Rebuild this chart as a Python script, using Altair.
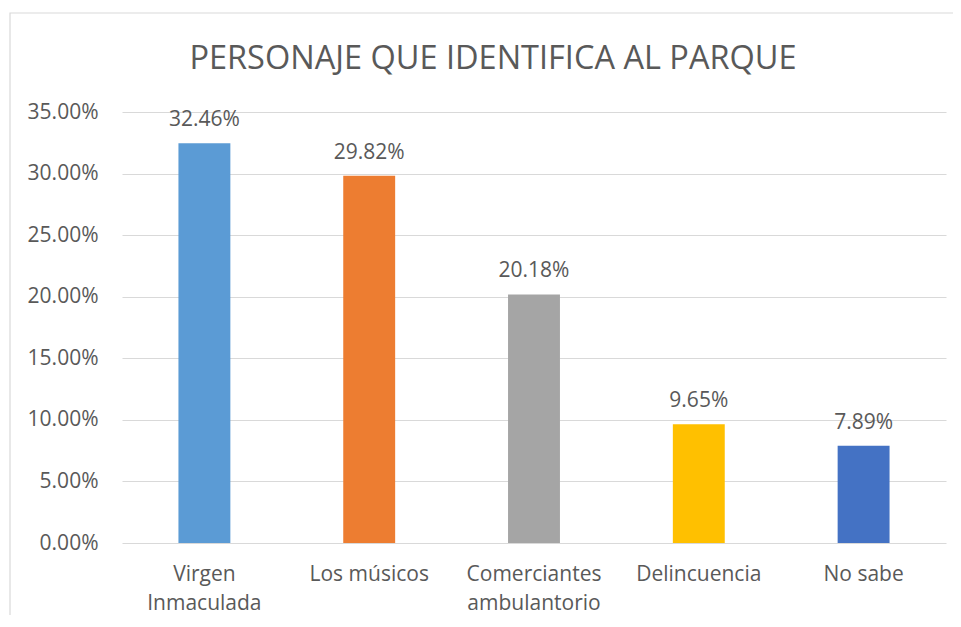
import altair as alt
import pandas as pd

categories = ["Virgen\nInmaculada", "Los músicos", "Comerciantes\nambulantorio", "Delincuencia", "No sabe"]
values = [0.3246, 0.2982, 0.2018, 0.0965, 0.0789]
colors = ["#5B9BD5", "#ED7D31", "#A5A5A5", "#FFC000", "#4472C4"]
title_text = "PERSONAJE QUE IDENTIFICA AL PARQUE"

df = pd.DataFrame({"cat": categories, "val": values, "color": colors})

FONT = "Open Sans"
GRAY = "#595959"

x_enc = alt.X(
    "cat:N",
    sort=categories,
    scale=alt.Scale(paddingInner=0.685, paddingOuter=0.3425),
    axis=alt.Axis(
        title=None,
        labelAngle=0,
        labelExpr="split(datum.label, '\\n')",
        labelLineHeight=29,
        labelPadding=20,
        labelFontSize=21,
        labelFont=FONT,
        labelColor=GRAY,
        ticks=False,
        domain=False,
        grid=False,
    ),
)
y_enc = alt.Y(
    "val:Q",
    scale=alt.Scale(domain=[0, 0.35], nice=False),
    axis=alt.Axis(
        title=None,
        format=".2%",
        values=[0, 0.05, 0.10, 0.15, 0.20, 0.25, 0.30, 0.35],
        labelFontSize=21,
        labelFont=FONT,
        labelColor=GRAY,
        labelPadding=24,
        ticks=False,
        domain=False,
        grid=True,
        gridColor="#D9D9D9",
        gridWidth=1.2,
    ),
)

base = alt.Chart(df)
bars = base.mark_bar().encode(
    x=x_enc,
    y=y_enc,
    color=alt.Color("color:N", scale=None),
)
labels = base.mark_text(
    dy=-17, baseline="alphabetic", fontSize=21, font=FONT, color=GRAY
).encode(
    x=alt.X("cat:N", sort=categories),
    y=alt.Y("val:Q"),
    text=alt.Text("val:Q", format=".2%"),
)
border = alt.Chart(alt.Data(values=[{}])).mark_rect(
    filled=False, stroke="#D9D9D9", strokeWidth=1.2
).encode(
    x=alt.value(-112), x2=alt.value(860), y=alt.value(-99), y2=alt.value(540)
)

chart = alt.layer(border, bars, labels).properties(
    width=824,
    height=431,
    title=alt.TitleParams(
        title_text,
        font=FONT,
        fontSize=32.5,
        fontWeight="normal",
        color=GRAY,
        anchor="middle",
        frame="group",
        dx=-41,
        offset=-89,
        baseline="alphabetic",
    ),
    autosize=alt.AutoSizeParams(type="none"),
    padding={"left": 114, "top": 104, "right": 7, "bottom": 72},
).configure_view(stroke=None)

chart.save("out.html", embed_options={"renderer": "svg", "actions": False})
